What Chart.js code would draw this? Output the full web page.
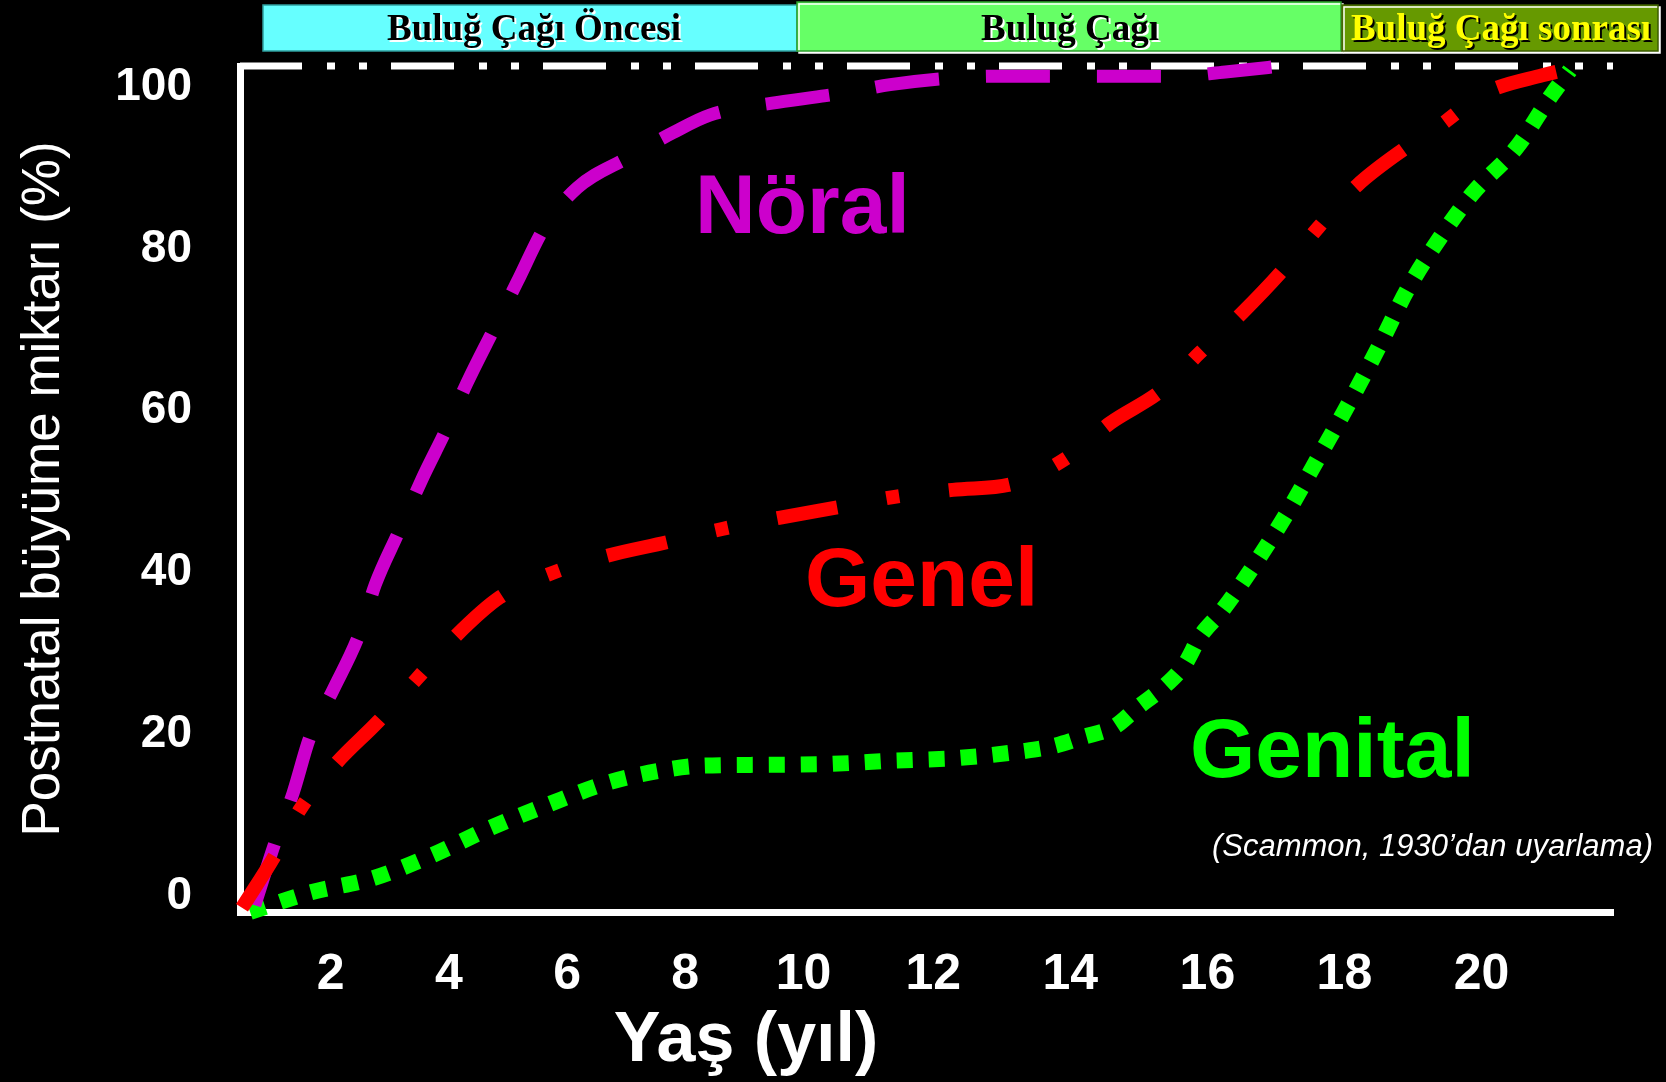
<!DOCTYPE html>
<html>
<head>
<meta charset="utf-8">
<title>Scammon growth curves</title>
<script src="https://cdn.jsdelivr.net/npm/chart.js@4.4.1/dist/chart.umd.min.js"></script>
<style>
  html, body { margin: 0; padding: 0; background: #000; }
  #wrap { width: 1666px; height: 1082px; }
</style>
</head>
<body>
<div id="wrap"><canvas id="growthChart" width="1666" height="1082"></canvas></div>
<script>
// Scammon curves: age (years) and postnatal growth (%)
const noralAge = [0.22, 0.52, 0.79, 1.04, 1.38, 1.78, 2.01, 2.35, 2.70, 3.08, 3.37, 3.79, 4.12, 4.53, 5.01, 5.77, 6.43, 6.98, 7.99, 8.96, 9.66, 10.59, 11.32, 12.26, 13.92, 14.64, 15.59];
const noralPct = [0.8, 8.2, 14.1, 20.7, 26.2, 33.0, 38.7, 44.8, 51.1, 57.3, 62.5, 69.2, 74.5, 81.0, 85.6, 89.2, 92.1, 94.2, 95.7, 96.8, 97.8, 98.6, 98.8, 98.8, 98.8, 99.3, 100.1];

const genelAge = [0.03, 0.52, 0.89, 1.41, 2.05, 2.62, 3.19, 3.86, 4.65, 5.45, 6.34, 7.18, 8.01, 8.92, 9.75, 10.59, 11.52, 12.29, 12.93, 13.70, 14.26, 14.90, 15.53, 16.02, 16.60, 17.28, 17.80, 18.50, 19.35, 20.18];
const genelPct = [0.5, 6.7, 12.1, 17.4, 22.5, 27.5, 32.5, 37.2, 40.1, 42.1, 43.7, 45.3, 46.6, 47.9, 49.1, 49.9, 50.7, 53.7, 57.8, 61.7, 66.1, 70.9, 76.2, 80.9, 85.9, 90.1, 92.8, 96.8, 98.9, 100.4];

const genitalAge = [0.15, 1.04, 1.98, 2.85, 3.71, 4.58, 5.47, 6.39, 6.86, 7.80, 8.77, 9.72, 10.67, 11.62, 12.08, 12.53, 12.99, 13.34, 13.71, 14.04, 14.26, 14.58, 15.05, 15.56, 16.00, 16.48, 16.92, 17.34, 17.83, 18.32, 18.96, 19.49, 19.76];
const genitalPct = [0.0, 2.3, 4.0, 6.7, 9.9, 12.7, 15.3, 16.9, 17.3, 17.4, 17.5, 17.9, 18.2, 19.0, 19.6, 20.7, 21.9, 24.2, 26.5, 29.3, 32.5, 35.5, 40.8, 47.2, 53.4, 60.2, 66.8, 73.5, 79.7, 85.0, 90.3, 96.6, 99.5];

// 100% reference line
const fullAge = [0, 20.4];
const fullPct = [100, 100];

// age labels: the slide spaces 2-10 and 12-20 differently
const xTicksEarly = [2, 4, 6, 8, 10];
const xTicksLate = [12, 14, 16, 18, 20];
const yTicks = [0, 20, 40, 60, 80, 100];
const stageLabels = ['Buluğ Çağı Öncesi', 'Buluğ Çağı', 'Buluğ Çağı sonrası'];
const seriesNames = ['Nöral', 'Genel', 'Genital'];

const SANS = "'Liberation Sans', Arial, sans-serif";
const SERIF = "'Liberation Serif', 'Times New Roman', serif";

function toPoints(ages, pcts) {
    return ages.map((a, i) => ({ x: a, y: pcts[i] }));
}

// keep tick labels from pushing the plot area around
function noLabelPadding(scale) {
    scale.paddingTop = 0;
    scale.paddingBottom = 0;
    scale.paddingLeft = 0;
    scale.paddingRight = 0;
}

const tickFont = size => ({ family: SANS, weight: 'bold', size: size, lineHeight: 1.2 });

// banner, curve names, source note and x title
const overlay = {
    id: 'overlay',
    afterDraw(chart) {
        const ctx = chart.ctx;
        ctx.save();

        const boxes = [
            { x: 263, y: 5, w: 534, h: 46, fill: '#66ffff', edge: '#2f9f9f', text: '#000', shadow: '#fff', cx: 534 },
            { x: 797, y: 2, w: 544, h: 49, fill: '#66ff66', edge: '#2f9f2f', text: '#000', shadow: '#fff', cx: 1070 },
            { x: 1342, y: 5, w: 316, h: 46, fill: '#669900', edge: '#3d5c00', text: '#ffff00', shadow: '#000', cx: 1501 }
        ];
        boxes.forEach((b, i) => {
            ctx.fillStyle = b.fill;
            ctx.fillRect(b.x, b.y, b.w, b.h);
            ctx.strokeStyle = b.edge;
            ctx.lineWidth = 1.5;
            ctx.strokeRect(b.x, b.y, b.w, b.h);
            ctx.font = 'bold 37px ' + SERIF;
            ctx.textAlign = 'center';
            ctx.textBaseline = 'alphabetic';
            ctx.shadowColor = b.shadow;
            ctx.shadowOffsetX = 2;
            ctx.shadowOffsetY = 2;
            ctx.shadowBlur = 0;
            ctx.fillStyle = b.text;
            ctx.fillText(stageLabels[i], b.cx, 40);
        });
        ctx.shadowColor = 'transparent';
        ctx.shadowOffsetX = 0;
        ctx.shadowOffsetY = 0;

        // curve names
        ctx.textAlign = 'left';
        ctx.font = 'bold 84px ' + SANS;
        ctx.fillStyle = '#cc00cc';
        ctx.fillText(seriesNames[0], 695, 233);
        ctx.fillStyle = '#ff0000';
        ctx.fillText(seriesNames[1], 805, 606);
        ctx.fillStyle = '#00ff00';
        ctx.fillText(seriesNames[2], 1190, 777);

        // source note
        ctx.textAlign = 'right';
        ctx.font = 'italic 31px ' + SANS;
        ctx.fillStyle = '#fff';
        ctx.fillText('(Scammon, 1930’dan uyarlama)', 1653, 856);

        // x axis title
        ctx.textAlign = 'center';
        ctx.font = 'bold 70px ' + SANS;
        ctx.fillText('Yaş (yıl)', 746, 1061);

        ctx.restore();
    }
};

const ctx = document.getElementById('growthChart').getContext('2d');
const growthChart = new Chart(ctx, {
    type: 'line',
    data: {
        datasets: [
            {
                label: seriesNames[1],
                data: toPoints(genelAge, genelPct),
                borderColor: '#ff0000',
                borderWidth: 14,
                borderDash: [61, 50, 13, 50],
                order: 1
            },
            {
                label: seriesNames[0],
                data: toPoints(noralAge, noralPct),
                borderColor: '#cc00cc',
                borderWidth: 13,
                borderDash: [64, 47],
                order: 2
            },
            {
                label: seriesNames[2],
                data: toPoints(genitalAge, genitalPct),
                borderColor: '#00ff00',
                borderWidth: 16,
                borderDash: [16, 16],
                order: 3
            },
            {
                label: '100%',
                data: toPoints(fullAge, fullPct),
                borderColor: '#ffffff',
                borderWidth: 7,
                borderDash: [63, 25, 8, 24, 8, 24],
                borderDashOffset: 1,
                cubicInterpolationMode: 'default',
                tension: 0,
                order: 4
            }
        ]
    },
    options: {
        responsive: false,
        animation: false,
        layout: {
            padding: { left: 0, top: 66, right: 53, bottom: 0 }
        },
        elements: {
            point: { radius: 0 },
            line: {
                borderCapStyle: 'butt',
                borderJoinStyle: 'round',
                cubicInterpolationMode: 'monotone',
                fill: false
            }
        },
        datasets: {
            line: { clip: false, xAxisID: 'x', yAxisID: 'y' }
        },
        scales: {
            x: { type: 'linear', display: false, min: 0, max: 20.4 },
            y: { type: 'linear', display: false, min: 0, max: 100 },
            xEarly: {
                type: 'linear',
                position: 'bottom',
                min: 0.465,
                max: 23.70,
                afterBuildTicks: scale => { scale.ticks = xTicksEarly.map(v => ({ value: v })); },
                afterFit: scale => { scale.height = 170; noLabelPadding(scale); },
                grid: { display: false, drawTicks: false },
                border: { display: true, color: '#ffffff', width: 7 },
                ticks: { color: '#ffffff', font: tickFont(50), padding: 33, maxRotation: 0, autoSkip: false }
            },
            xLate: {
                type: 'linear',
                position: { y: 0 },
                min: 1.881,
                max: 21.92,
                afterBuildTicks: scale => { scale.ticks = xTicksLate.map(v => ({ value: v })); },
                afterFit: scale => { noLabelPadding(scale); },
                grid: { display: false, drawTicks: false },
                border: { display: false },
                ticks: { color: '#ffffff', font: tickFont(50), padding: 33, maxRotation: 0, autoSkip: false }
            },
            yLabels: {
                type: 'linear',
                position: 'left',
                min: -1.98,
                max: 102.6,
                afterBuildTicks: scale => { scale.ticks = yTicks.map(v => ({ value: v })); },
                afterFit: scale => { scale.width = 240; noLabelPadding(scale); },
                grid: { display: false, drawTicks: false },
                border: { display: true, color: '#ffffff', width: 7 },
                ticks: { color: '#ffffff', font: tickFont(46), padding: 48, autoSkip: false },
                title: {
                    display: true,
                    text: 'Postnatal büyüme miktarı (%)',
                    color: '#ffffff',
                    font: { family: SANS, size: 53, lineHeight: 1.2 },
                    padding: { top: 13, bottom: 0 }
                }
            }
        },
        plugins: {
            legend: { display: false },
            tooltip: { enabled: false }
        }
    },
    plugins: [overlay]
});
</script>
</body>
</html>
